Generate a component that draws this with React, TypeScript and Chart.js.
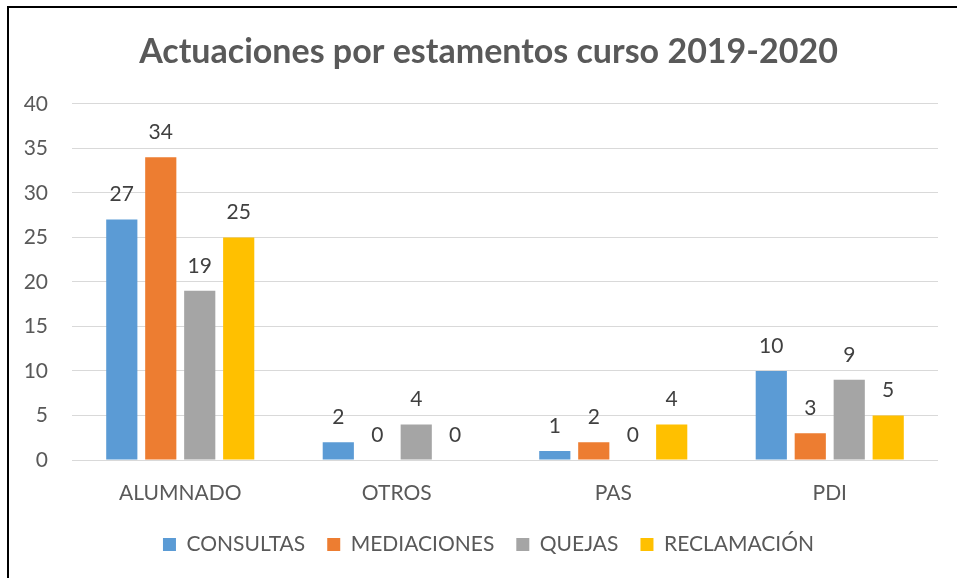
import React, { useEffect, useRef } from "react";
import { Chart, registerables } from "chart.js";

Chart.register(...registerables);

const categories = ["ALUMNADO", "OTROS", "PAS", "PDI"];
const seriesNames = ["CONSULTAS", "MEDIACIONES", "QUEJAS", "RECLAMACIÓN"];
const consultas = [27, 2, 1, 10];
const mediaciones = [34, 0, 2, 3];
const quejas = [19, 4, 0, 9];
const reclamacion = [25, 0, 4, 5];
const seriesColors = ["#5B9BD5", "#ED7D31", "#A5A5A5", "#FFC000"];
const yTicks = [0, 5, 10, 15, 20, 25, 30, 35, 40];
const titleText = "Actuaciones por estamentos curso 2019-2020";

const FONT = "Lato, 'Open Sans', sans-serif";

const dataLabelPlugin = {
  id: "dataLabels",
  afterDatasetsDraw(chart: any) {
    const ctx = chart.ctx;
    ctx.save();
    ctx.font = `21px ${FONT}`;
    ctx.fillStyle = "#404040";
    ctx.textAlign = "center";
    ctx.textBaseline = "middle";
    chart.data.datasets.forEach((ds: any, i: number) => {
      const meta = chart.getDatasetMeta(i);
      meta.data.forEach((bar: any, j: number) => {
        ctx.fillText(String(ds.data[j]), bar.x, bar.y - 25);
      });
    });
    ctx.restore();
  },
};

export default function App() {
  const ref = useRef<HTMLCanvasElement>(null);
  useEffect(() => {
    if (!ref.current) return;
    const allSeries = [consultas, mediaciones, quejas, reclamacion];
    const chart = new Chart(ref.current, {
      type: "bar",
      data: {
        labels: categories,
        datasets: allSeries.map((d, i) => ({
          label: seriesNames[i],
          data: d,
          backgroundColor: seriesColors[i],
          borderWidth: 0,
          categoryPercentage: 0.72,
          barPercentage: 0.8,
        })),
      },
      options: {
        animation: false,
        responsive: false,
        maintainAspectRatio: false,
        layout: { padding: { left: 20, right: 0, top: 0, bottom: 13 } },
        plugins: {
          title: {
            display: true,
            text: titleText,
            color: "#595959",
            font: { family: FONT, size: 34, weight: "bold", lineHeight: 1.2 },
            padding: { top: 32, bottom: 31 },
          },
          legend: {
            position: "bottom",
            labels: {
              color: "#595959",
              font: { family: FONT, size: 21 },
              boxWidth: 13,
              boxHeight: 13,
              padding: 22,
            },
          },
          tooltip: { enabled: false },
        },
        scales: {
          x: {
            grid: { display: false, drawTicks: false },
            border: { display: false },
            ticks: { color: "#595959", font: { family: FONT, size: 21 }, padding: 21 },
            afterFit: (s: any) => { s.height = 52; },
          },
          y: {
            min: 0,
            max: 40,
            afterBuildTicks: (s: any) => { s.ticks = yTicks.map((v) => ({ value: v })); },
            grid: { color: "#D9D9D9", lineWidth: 1, drawTicks: false },
            border: { display: false },
            ticks: { color: "#595959", font: { family: FONT, size: 21 }, padding: 24 },
            afterFit: (s: any) => { s.width = 52; },
          },
          yRight: {
            position: "right",
            min: 0,
            max: 40,
            grid: { display: false, drawTicks: false },
            border: { display: false },
            ticks: { display: false },
            afterFit: (s: any) => { s.width = 19; },
          },
        },
      },
      plugins: [dataLabelPlugin],
    });
    return () => chart.destroy();
  }, []);
  return (
    <div style={{ position: "fixed", left: 0, top: 0, width: 957, height: 578, background: "#fff", overflow: "hidden" }}>
      <canvas ref={ref} width={957} height={578} style={{ position: "absolute", left: 0, top: 0 }} />
      <div style={{ position: "absolute", left: 7, top: 6, width: 960, height: 600, borderLeft: "2px solid #000", borderTop: "2px solid #000", pointerEvents: "none" }} />
    </div>
  );
}
